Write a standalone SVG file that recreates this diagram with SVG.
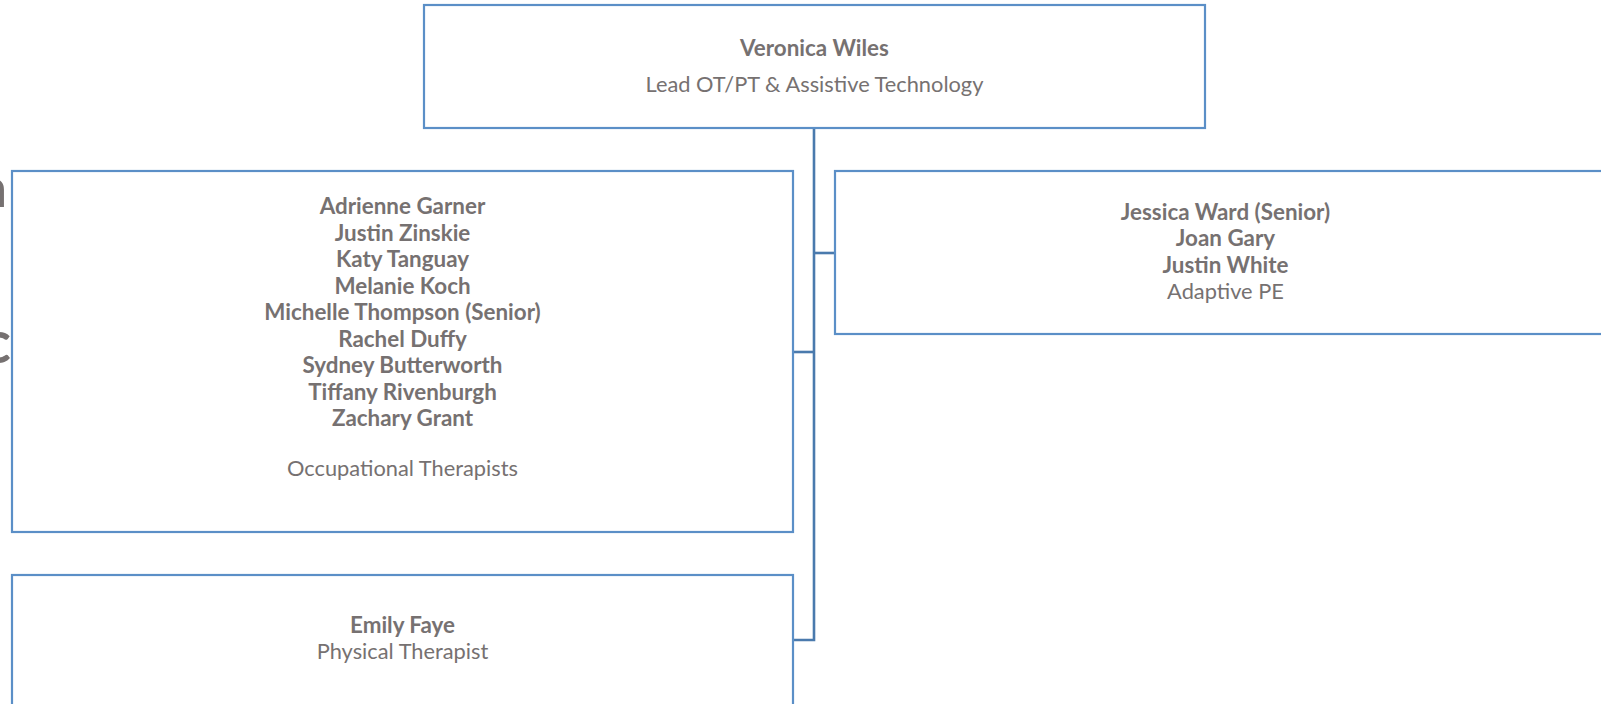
<svg xmlns="http://www.w3.org/2000/svg" width="1601" height="704" viewBox="0 0 1601 704">
<style>
.box{fill:#ffffff;stroke:#5B8FC7;stroke-width:2.2}
.conn{fill:none;stroke:#4A7AAD;stroke-width:2.6}
text{font-family:Lato,"Open Sans","Liberation Sans",sans-serif;fill:#767171;font-size:21.8px;text-anchor:middle}
.b{font-weight:bold;font-size:22.4px}
.frag{font-size:54px;font-weight:bold;text-anchor:end}
</style>
<rect width="1601" height="704" fill="#ffffff"/>
<text class="frag" x="7" y="207">n</text>
<text class="frag" x="11" y="363" style="font-size:60px">c</text>
<g id="connectors">
<path class="conn" d="M814,128 V640 H793"/>
<path class="conn" d="M814,253 H835"/>
<path class="conn" d="M814,352 H793"/>
</g>
<g id="lead">
<rect class="box" x="424" y="5" width="781" height="123"/>
<text class="b" x="814.5" y="56">Veronica Wiles</text>
<text x="814.5" y="92">Lead OT/PT &amp; Assistive Technology</text>
</g>
<g id="ot">
<rect class="box" x="12" y="171" width="781" height="361"/>
<text class="b" x="402.5" y="214">Adrienne Garner</text>
<text class="b" x="402.5" y="240.5">Justin Zinskie</text>
<text class="b" x="402.5" y="267">Katy Tanguay</text>
<text class="b" x="402.5" y="293.5">Melanie Koch</text>
<text class="b" x="402.5" y="320">Michelle Thompson (Senior)</text>
<text class="b" x="402.5" y="346.5">Rachel Duffy</text>
<text class="b" x="402.5" y="373">Sydney Butterworth</text>
<text class="b" x="402.5" y="399.5">Tiffany Rivenburgh</text>
<text class="b" x="402.5" y="426">Zachary Grant</text>
<text x="402.5" y="476">Occupational Therapists</text>
</g>
<g id="ape">
<rect class="box" x="835" y="171" width="781" height="163"/>
<text class="b" x="1225.5" y="219.5">Jessica Ward (Senior)</text>
<text class="b" x="1225.5" y="246">Joan Gary</text>
<text class="b" x="1225.5" y="272.5">Justin White</text>
<text x="1225.5" y="298.5">Adaptive PE</text>
</g>
<g id="pt">
<rect class="box" x="12" y="575" width="781" height="160"/>
<text class="b" x="402.5" y="633">Emily Faye</text>
<text x="402.5" y="659">Physical Therapist</text>
</g>
</svg>
